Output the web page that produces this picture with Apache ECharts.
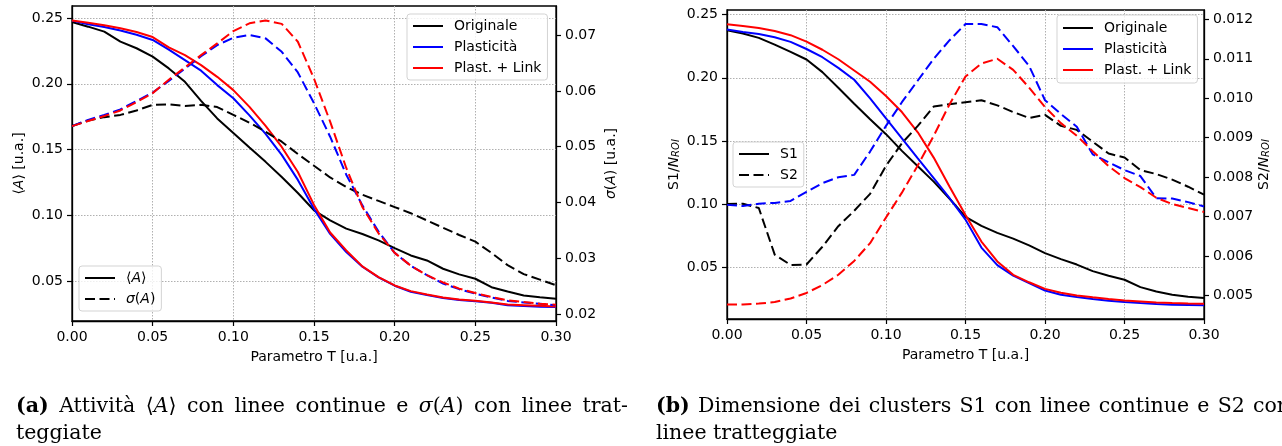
<!DOCTYPE html>
<html>
<head>
<meta charset="utf-8">
<script src="https://cdn.jsdelivr.net/npm/echarts@6/dist/echarts.min.js"></script>
<style>
html, body { margin: 0; padding: 0; background: #fff; }
#chart { width: 1282px; height: 446px; }
</style>
</head>
<body>
<div id="chart"></div>
<script>
// Parametro T
var xs = [0.00, 0.01, 0.02, 0.03, 0.04, 0.05, 0.06, 0.07, 0.08, 0.09, 0.10,
          0.11, 0.12, 0.13, 0.14, 0.15, 0.16, 0.17, 0.18, 0.19, 0.20,
          0.21, 0.22, 0.23, 0.24, 0.25, 0.26, 0.27, 0.28, 0.29, 0.30];

// (a) attivita media <A>
var attOrig  = [0.247, 0.2434, 0.2396, 0.232, 0.227, 0.2206, 0.2117, 0.2015, 0.187, 0.1737, 0.1627,
                0.1516, 0.1407, 0.1292, 0.117, 0.1039, 0.0963, 0.090, 0.0859, 0.0811, 0.0752,
                0.0696, 0.0658, 0.0595, 0.0552, 0.0519, 0.0455, 0.0422, 0.0392, 0.0379, 0.0367];
var attPlast = [0.248, 0.2453, 0.2432, 0.2405, 0.2372, 0.2333, 0.226, 0.218, 0.210, 0.199, 0.189,
                0.176, 0.162, 0.146, 0.127, 0.105, 0.086, 0.0722, 0.061, 0.053, 0.0466,
                0.042, 0.0395, 0.0373, 0.0358, 0.0348, 0.0336, 0.0318, 0.0312, 0.0307, 0.0304];
var attLink  = [0.248, 0.2463, 0.2445, 0.2422, 0.2393, 0.2355, 0.2277, 0.2218, 0.2142, 0.2053, 0.1952,
                0.1825, 0.168, 0.152, 0.133, 0.108, 0.087, 0.0734, 0.0613, 0.0531, 0.0468,
                0.0425, 0.040, 0.0377, 0.0362, 0.0352, 0.0339, 0.0323, 0.0318, 0.0313, 0.0308];
// (a) sigma(A)
var sigOrig  = [0.0537, 0.0547, 0.0553, 0.0557, 0.0565, 0.0575, 0.0576, 0.0573, 0.0575, 0.0571, 0.0557,
                0.0543, 0.0527, 0.0509, 0.0487, 0.0466, 0.0445, 0.0428, 0.0414, 0.0403, 0.0392,
                0.0381, 0.0368, 0.0355, 0.0342, 0.033, 0.031, 0.0288, 0.0272, 0.0262, 0.0252];
var sigPlast = [0.0537, 0.0548, 0.0557, 0.0567, 0.0582, 0.0597, 0.0618, 0.064, 0.0662, 0.0682, 0.0695,
                0.0700, 0.0694, 0.0670, 0.0633, 0.0578, 0.0518, 0.0450, 0.0395, 0.0348, 0.0310,
                0.0287, 0.0270, 0.0255, 0.0245, 0.0237, 0.0230, 0.0224, 0.0221, 0.0219, 0.0216];
var sigLink  = [0.0537, 0.0546, 0.0555, 0.0565, 0.0580, 0.0596, 0.0620, 0.0642, 0.0664, 0.0685, 0.0707,
                0.0721, 0.0726, 0.0720, 0.0688, 0.0622, 0.0545, 0.0462, 0.0392, 0.0345, 0.0310,
                0.0287, 0.0270, 0.0257, 0.0246, 0.0238, 0.0231, 0.0225, 0.0222, 0.0219, 0.0217];

// (b) S1 / N_ROI
var s1Orig  = [0.2376, 0.235, 0.2316, 0.2263, 0.2205, 0.2145, 0.2045, 0.1922, 0.1796, 0.1673, 0.1555,
               0.1423, 0.1301, 0.118, 0.1045, 0.0902, 0.083, 0.0775, 0.073, 0.0676, 0.0615,
               0.0568, 0.0525, 0.0473, 0.0436, 0.0405, 0.0347, 0.0312, 0.0286, 0.027, 0.026];
var s1Plast = [0.2382, 0.2363, 0.2347, 0.2321, 0.2284, 0.2228, 0.2163, 0.2079, 0.1985, 0.1838, 0.168,
               0.1522, 0.1364, 0.1207, 0.1049, 0.088, 0.0659, 0.052, 0.0437, 0.0379, 0.032,
               0.0287, 0.0269, 0.0253, 0.024, 0.0229, 0.0221, 0.0214, 0.0208, 0.0206, 0.0203];
var s1Link  = [0.2424, 0.241, 0.2394, 0.237, 0.2337, 0.2286, 0.2222, 0.2147, 0.2058, 0.1969, 0.1856,
               0.173, 0.157, 0.137, 0.114, 0.0917, 0.0707, 0.055, 0.0444, 0.0385, 0.0333,
               0.0302, 0.0281, 0.0266, 0.0253, 0.0242, 0.0234, 0.0226, 0.0221, 0.0218, 0.0216];
// (b) S2 / N_ROI
var s2Orig  = [0.00732, 0.00733, 0.00722, 0.00604, 0.00578, 0.00579, 0.00624, 0.00676, 0.00715, 0.00758, 0.00829,
               0.00886, 0.0093, 0.00979, 0.00985, 0.0099, 0.00995, 0.00982, 0.00965, 0.0095, 0.00958,
               0.0093, 0.0092, 0.0089, 0.0086, 0.0085, 0.00818, 0.00808, 0.00794, 0.00776, 0.00756];
var s2Plast = [0.0073, 0.00727, 0.00733, 0.00735, 0.0074, 0.00763, 0.00785, 0.008, 0.00806, 0.00865, 0.0093,
               0.0099, 0.01045, 0.011, 0.01147, 0.01188, 0.01188, 0.0118, 0.01132, 0.01082, 0.00995,
               0.0096, 0.00928, 0.00858, 0.00838, 0.00818, 0.00803, 0.00747, 0.00746, 0.00737, 0.00726];
var s2Link  = [0.00478, 0.00478, 0.0048, 0.00484, 0.00493, 0.00507, 0.00527, 0.00553, 0.00588, 0.00633, 0.00698,
               0.00761, 0.0083, 0.00905, 0.00985, 0.01055, 0.01088, 0.011, 0.01072, 0.01027, 0.00978,
               0.00937, 0.00905, 0.00866, 0.00828, 0.00798, 0.00775, 0.00748, 0.00732, 0.00722, 0.00712];

var attTicks = [0.05, 0.10, 0.15, 0.20, 0.25];
var sigTicks = [0.02, 0.03, 0.04, 0.05, 0.06, 0.07];
var s1Ticks  = [0.05, 0.10, 0.15, 0.20, 0.25];
var s2Ticks  = [0.005, 0.006, 0.007, 0.008, 0.009, 0.010, 0.011, 0.012];

var FONT = 'DejaVu Sans';
var SERIF = 'DejaVu Serif';
var BLACK = '#000000', BLUE = '#0000ff', RED = '#ff0000';
var DASH = [10, 4.5];

function pairs(ys) {
	return xs.map(function(x, i) { return [x, ys[i]]; });
}

function line(name, ys, color, dashed, grid) {
	return {
		name: name,
		type: 'line',
		xAxisIndex: grid,
		yAxisIndex: grid * 2 + (dashed ? 1 : 0),
		data: ys ? pairs(ys) : [],
		symbol: 'none',
		smooth: false,
		silent: true,
		color: color,
		lineStyle: { color: color, width: 2, type: dashed ? DASH : 'solid' }
	};
}

var nameStyle = {
	fontSize: 14, color: BLACK, fontFamily: FONT,
	rich: {
		i: { fontSize: 14, color: BLACK, fontFamily: FONT, fontStyle: 'italic' },
		s: { fontSize: 10, color: BLACK, fontFamily: FONT, fontStyle: 'italic', verticalAlign: 'bottom', lineHeight: 10 }
	}
};
var gridLines = { show: true, lineStyle: { color: '#b0b0b0', width: 1, type: [1.5, 1.5] } };

function xAxis(grid) {
	return {
		type: 'value', gridIndex: grid, min: 0, max: 0.3, interval: 0.05,
		name: 'Parametro T [u.a.]', nameLocation: 'middle', nameGap: 29, nameTextStyle: nameStyle,
		axisLine: { show: true, onZero: false, lineStyle: { color: BLACK, width: 1.3 } },
		axisTick: { show: true, length: 5, lineStyle: { color: BLACK, width: 1.2 } },
		axisLabel: { color: BLACK, fontSize: 14, fontFamily: FONT, margin: 9,
			formatter: function(v) { return v.toFixed(2); } },
		splitLine: gridLines
	};
}

function yAxis(grid, pos, min, max, ticks, digits, name, gap, split) {
	return {
		type: 'value', gridIndex: grid, position: pos, min: min, max: max,
		name: name, nameLocation: 'middle', nameGap: gap, nameRotate: 90, nameTextStyle: nameStyle,
		axisLine: { show: true, lineStyle: { color: BLACK, width: 1.3 } },
		axisTick: { show: true, length: 5, customValues: ticks, lineStyle: { color: BLACK, width: 1.2 } },
		axisLabel: { color: BLACK, fontSize: 14, fontFamily: FONT, margin: 9, customValues: ticks,
			formatter: function(v) { return v.toFixed(digits); } },
		splitLine: split ? gridLines : { show: false }
	};
}

function legend(names, left, top, pad, fmt) {
	return {
		data: names, left: left, top: top, orient: 'vertical',
		itemWidth: 30, itemHeight: 14, itemGap: 7, padding: pad,
		selectedMode: false,
		borderColor: '#d3d3d3', borderWidth: 1, borderRadius: 3,
		backgroundColor: 'rgba(255,255,255,0.8)',
		itemStyle: { opacity: 0 },
		formatter: fmt,
		textStyle: { color: BLACK, fontSize: 14, fontFamily: FONT, padding: [0, 0, 0, 6],
			rich: { i: { color: BLACK, fontSize: 14, fontFamily: FONT, fontStyle: 'italic', padding: 0 } } }
	};
}

// captions: LaTeX-like justified lines, one text element per word
var CAP = 20.5;
var capRich = {
	b: { fontSize: CAP, fontFamily: SERIF, fontWeight: 'bold', fill: BLACK },
	i: { fontSize: CAP, fontFamily: SERIF, fontStyle: 'italic', fill: BLACK }
};
var measureCtx = document.createElement('canvas').getContext('2d');

function wordWidth(word) {
	var re = /\{(\w+)\|([^}]*)\}|([^{]+)/g, m, w = 0;
	while ((m = re.exec(word))) {
		var pre = m[1] === 'b' ? 'bold ' : (m[1] === 'i' ? 'italic ' : '');
		measureCtx.font = pre + CAP + 'px "' + SERIF + '"';
		w += measureCtx.measureText(m[1] ? m[2] : m[3]).width;
	}
	return w;
}

function captionLine(x0, x1, top, txt, justify) {
	var words = txt.split(' ');
	var widths = words.map(wordWidth);
	var total = widths.reduce(function(a, b) { return a + b; }, 0);
	measureCtx.font = CAP + 'px "' + SERIF + '"';
	var gap = justify && words.length > 1 ? (x1 - x0 - total) / (words.length - 1) : measureCtx.measureText(' ').width;
	var x = x0, out = [];
	words.forEach(function(w, k) {
		out.push({ type: 'text', left: x, top: top, silent: true,
			style: { text: w, fontSize: CAP, fontFamily: SERIF, fill: BLACK, rich: capRich } });
		x += widths[k] + gap;
	});
	return out;
}

var captions = [].concat(
	captionLine(16, 628, 396, '{b|(a)} Attività ⟨{i|A}⟩ con linee continue e {i|σ}({i|A}) con linee trat-', true),
	captionLine(16, 628, 423, 'teggiate', false),
	captionLine(656, 1290, 396, '{b|(b)} Dimensione dei clusters S1 con linee continue e S2 con', true),
	captionLine(656, 1290, 423, 'linee tratteggiate', false)
);

var series = [
	line('Originale', attOrig, BLACK, false, 0),
	line('Plasticità', attPlast, BLUE, false, 0),
	line('Plast. + Link', attLink, RED, false, 0),
	line('sig Originale', sigOrig, BLACK, true, 0),
	line('sig Plasticità', sigPlast, BLUE, true, 0),
	line('sig Plast. + Link', sigLink, RED, true, 0),
	line('⟨A⟩', null, BLACK, false, 0),
	line('σ(A)', null, BLACK, true, 0),
	line('Originale', s1Orig, BLACK, false, 1),
	line('Plasticità', s1Plast, BLUE, false, 1),
	line('Plast. + Link', s1Link, RED, false, 1),
	line('S2 Originale', s2Orig, BLACK, true, 1),
	line('S2 Plasticità', s2Plast, BLUE, true, 1),
	line('S2 Plast. + Link', s2Link, RED, true, 1),
	line('S1', null, BLACK, false, 1),
	line('S2', null, BLACK, true, 1)
];

var option = {
	animation: false,
	backgroundColor: '#ffffff',
	grid: [
		{ left: 72, right: 726, top: 6, bottom: 125, show: true, borderColor: BLACK, borderWidth: 1.3 },
		{ left: 727, right: 78, top: 10, bottom: 127, show: true, borderColor: BLACK, borderWidth: 1.3 }
	],
	xAxis: [xAxis(0), xAxis(1)],
	yAxis: [
		yAxis(0, 'left', 0.0198, 0.2591, attTicks, 2, '⟨{i|A}⟩ [u.a.]', 46, true),
		yAxis(0, 'right', 0.0188, 0.0752, sigTicks, 2, '{i|σ}({i|A}) [u.a.]', 48, false),
		yAxis(1, 'left', 0.0095, 0.2536, s1Ticks, 2, 'S1/{i|N}{s|ROI}', 46, true),
		yAxis(1, 'right', 0.00441, 0.012235, s2Ticks, 3, 'S2/{i|N}{s|ROI}', 52, false)
	],
	legend: [
		legend(['Originale', 'Plasticità', 'Plast. + Link'], 407, 14, [5, 6, 5, 5]),
		legend(['⟨A⟩', 'σ(A)'], 79, 266, [5, 6, 5, 5], function(n) {
			return n === '⟨A⟩' ? '⟨{i|A}⟩' : '{i|σ}({i|A})';
		}),
		legend(['Originale', 'Plasticità', 'Plast. + Link'], 1057, 15, [6, 6, 6, 5]),
		legend(['S1', 'S2'], 733, 142, [5, 6, 5, 5])
	],
	graphic: captions,
	series: series
};

var chart = echarts.init(document.getElementById('chart'));
chart.setOption(option);
</script>
</body>
</html>
